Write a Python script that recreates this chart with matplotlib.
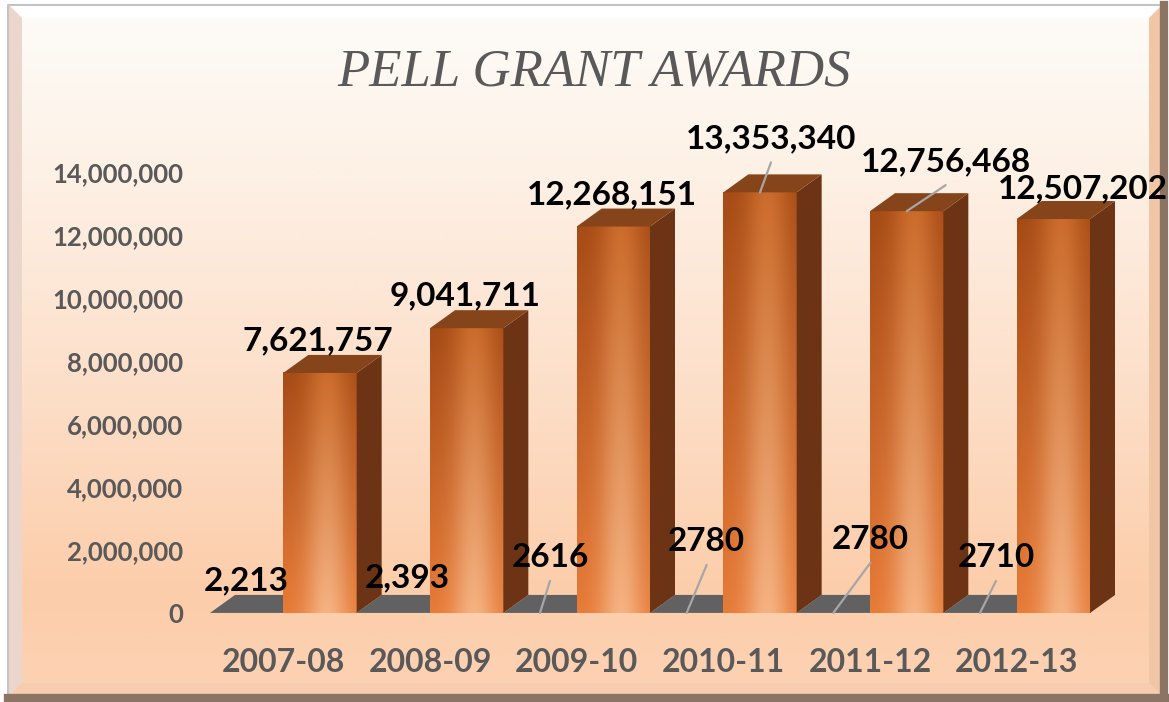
import numpy as np
import matplotlib
matplotlib.use("Agg")
import matplotlib.pyplot as plt
from matplotlib.patches import Polygon

# ---------------- data ----------------
categories = ["2007-08", "2008-09", "2009-10", "2010-11", "2011-12", "2012-13"]
max_award = [2213, 2393, 2616, 2780, 2780, 2710]
max_award_labels = ["2,213", "2,393", "2616", "2780", "2780", "2710"]
total_awards = [7621757, 9041711, 12268151, 13353340, 12756468, 12507202]
total_award_labels = ["7,621,757", "9,041,711", "12,268,151",
                      "13,353,340", "12,756,468", "12,507,202"]
y_ticks = [0, 2000000, 4000000, 6000000, 8000000, 10000000, 12000000, 14000000]
title = "PELL GRANT AWARDS"

# ---------------- layout / style (pixels) ----------------
W, H, DPI = 1169, 702, 100
gray_label_offsets = [(0, 35), (14, 38), (10, 58), (20, 74), (37, 76), (16, 58)]
gray_leaders = [False, False, True, True, True, True]
orange_label_offsets = [(-2, 35), (-2, 35), (-1, 34), (11, 56), (39, 52), (30, 33)]
orange_leaders = [False, False, False, True, True, False]
DEPTH_PX = (25, 18)
TXT = "#595959"
LEADER = "#a6a6a6"

fig = plt.figure(figsize=(W / DPI, H / DPI), dpi=DPI)
fig.patch.set_facecolor("white")

# ---------------- background & frame ----------------
bg = fig.add_axes([0, 0, 1, 1], zorder=0)
bg.set_xlim(0, W)
bg.set_ylim(H, 0)
bg.axis("off")
stops = np.array([0.0, 0.2, 0.5, 0.85, 1.0])
cols = np.array([(254, 252, 249), (253, 243, 233), (253, 226, 206),
                 (252, 205, 170), (252, 210, 180)]) / 255.0
yy = np.linspace(0, 1, 300)
grad = np.stack([np.interp(yy, stops, cols[:, k]) for k in range(3)], axis=-1)
grad = np.repeat(grad[:, None, :], 2, axis=1)
bg.imshow(grad, extent=(9, 1162, 696, 5), aspect="auto", zorder=0,
          interpolation="bilinear")
bw = 13
bg.add_patch(Polygon([(9, 5), (1162, 5), (1162 - bw, 5 + bw), (9 + bw, 5 + bw)],
                     closed=True, facecolor="#ffffff", edgecolor="none", zorder=1))
bg.add_patch(Polygon([(9, 5), (9 + bw, 5 + bw), (9 + bw, 696 - bw), (9, 696)],
                     closed=True, facecolor="#ead6ca", edgecolor="none", zorder=1))
bg.add_patch(Polygon([(1162, 5), (1162, 696), (1162 - bw, 696 - bw), (1162 - bw, 5 + bw)],
                     closed=True, facecolor="#f1c6a6", edgecolor="none", zorder=1))
bg.add_patch(Polygon([(9, 696), (1162, 696), (1162 - bw, 696 - bw), (9 + bw, 696 - bw)],
                     closed=True, facecolor="#f6cdae", edgecolor="none", zorder=1))
bg.plot([8, 8, 1162], [697, 5, 5], color="#c4c4c4", lw=1.5, zorder=2)
bg.plot([1164, 1164], [5, 697], color="#8c7464", lw=6, zorder=2)
bg.plot([8, 1167], [698, 698], color="#8c7464", lw=6, zorder=2)

bg.text(594, 72, title, ha="center", va="center", fontsize=38,
        family="Liberation Serif", style="italic", color=TXT, zorder=3)

# ---------------- main axes ----------------
ax_left, ax_bottom = 210, 613
ax_w, ax_h = 880, 441
ax = fig.add_axes([ax_left / W, (H - ax_bottom) / H, ax_w / W, ax_h / H], zorder=1)
ax.set_facecolor("none")
n = len(categories)
ax.set_xlim(-0.5, n - 0.5)
ax.set_ylim(0, y_ticks[-1])
for s in ax.spines.values():
    s.set_visible(False)

px_x = ax_w / n
px_y = ax_h / y_ticks[-1]
ddx = DEPTH_PX[0] / px_x
ddy = DEPTH_PX[1] / px_y


def front_gradient():
    u = np.linspace(0, 1, 80)
    t = np.linspace(0, 1, 200)[:, None]  # 0 bottom, 1 top
    h = np.exp(-((u - 0.6) / 0.3) ** 2)[None, :]
    bot_edge = np.array((231, 122, 54)) / 255
    bot_hi = np.array((245, 178, 130)) / 255
    top_edge = np.array((165, 74, 22)) / 255
    top_hi = np.array((203, 108, 44)) / 255
    img = np.zeros((200, 80, 3))
    for k in range(3):
        e = bot_edge[k] + (top_edge[k] - bot_edge[k]) * t
        hi = bot_hi[k] + (top_hi[k] - bot_hi[k]) * t
        img[:, :, k] = e + (hi - e) * h
    return img


FRONT = front_gradient()


def bar3d(x0, w, v, front, top_c, side_c, z):
    if front is not None and v > 0:
        ax.imshow(front, extent=(x0, x0 + w, 0, v), origin="lower",
                  aspect="auto", zorder=z, interpolation="bilinear")
    ax.add_patch(Polygon([(x0 + w, 0), (x0 + w + ddx, ddy), (x0 + w + ddx, v + ddy), (x0 + w, v)],
                         closed=True, facecolor=side_c, edgecolor="none", zorder=z,
                         clip_on=False))
    ax.add_patch(Polygon([(x0, v), (x0 + w, v), (x0 + w + ddx, v + ddy), (x0 + ddx, v + ddy)],
                         closed=True, facecolor=top_c, edgecolor="none", zorder=z,
                         clip_on=False))


def label(xc, v, text, off, leader):
    ox, oy = off
    ax.annotate(text, xy=(xc, v), xytext=(ox * 0.72, (oy - 12) * 0.72),
                textcoords="offset points", ha="center", va="baseline",
                fontsize=24, fontweight="bold", family="Lato", color="black",
                zorder=20, annotation_clip=False)
    if leader:
        ax.annotate("", xy=(xc, v), xytext=(ox * 0.72, (oy - 26) * 0.72),
                    textcoords="offset points",
                    arrowprops=dict(arrowstyle="-", color=LEADER, lw=1.6,
                                    shrinkA=0, shrinkB=0),
                    zorder=19, annotation_clip=False)


bw_cat = 0.5
for i in range(n):
    z = 5 + i * 2
    bar3d(i - bw_cat, bw_cat, max_award[i], None, "#616161", "#616161", z)
    bar3d(i, bw_cat, total_awards[i], FRONT, "#86441a", "#6c3414", z + 1)

for i in range(n):
    label(i - bw_cat / 2, max_award[i], max_award_labels[i], gray_label_offsets[i], gray_leaders[i])
    label(i + bw_cat / 2, total_awards[i], total_award_labels[i], orange_label_offsets[i], orange_leaders[i])

ax.set_xlim(-0.5, n - 0.5)
ax.set_ylim(0, y_ticks[-1])
ax.set_yticks(y_ticks)
ax.set_yticklabels([f"{t:,}" for t in y_ticks])
ax.set_xticks(range(n))
ax.set_xticklabels(categories)
ax.tick_params(axis="y", length=0, pad=27 * 0.72, labelsize=18.5, labelcolor=TXT)
ax.tick_params(axis="x", length=0, pad=35 * 0.72, labelsize=23, labelcolor=TXT)
for t in ax.get_yticklabels():
    t.set_fontweight("bold")
    t.set_family("Lato")
for t in ax.get_xticklabels():
    t.set_fontweight("bold")
    t.set_family("Lato")

fig.savefig("out.png", dpi=DPI)
